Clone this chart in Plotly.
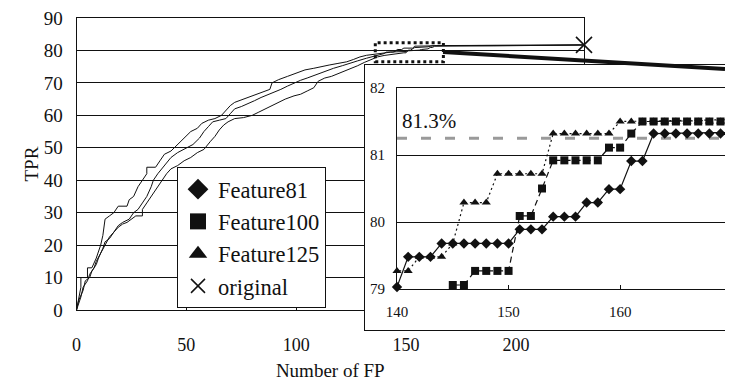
import plotly.graph_objects as go

# ---------------- data ----------------
series_names = ["Feature81", "Feature100", "Feature125"]

# main ROC curves (FP, TPR) below the zoomed region
f81_fp_head = [0, 2, 3, 5, 6, 8, 9, 11, 13, 15, 17, 19, 21, 24, 26, 28, 30, 32, 34, 35, 37, 40, 43, 46, 50,
               53, 56, 58, 60, 62, 65, 68, 70, 72, 75, 78, 81, 84, 87, 90, 93, 96, 99, 102, 105, 108, 111,
               114, 117, 121, 124, 128, 132, 135, 137]
f81_tpr_head = [0, 4, 7, 9, 11, 13, 15, 17.5, 20, 22.5, 24, 26, 27, 28, 30, 31, 33, 35, 38, 40, 42, 44.5, 47,
                48.5, 50, 51, 53, 55, 56.5, 58, 58.5, 59, 60.5, 62, 62.7, 63.5, 64.5, 65.5, 66.3, 67, 68, 69,
                70, 70.8, 71.5, 72.3, 73, 73.8, 74.5, 75.3, 76, 76.8, 77.6, 78.2, 78.6]

f100_fp_head = [0, 1, 3, 4, 6, 7, 9, 10, 12, 13, 15, 17, 19, 21, 23, 25, 27, 30, 30, 32, 33, 35, 37, 39, 41,
                43, 46, 49, 52, 55, 58, 61, 63, 65, 67, 69, 72, 76, 80, 83, 86, 89, 92, 95, 99, 102, 105, 108,
                110, 113, 116, 119, 122, 125, 128, 131, 134, 137]
f100_tpr_head = [0, 3, 6, 9, 10, 12, 14, 16, 19, 21, 22, 24, 25.5, 26.5, 27, 28, 29, 29, 31, 33, 34, 36, 38,
                 40, 42, 43.5, 44.5, 46, 47, 48.5, 49.5, 52, 53.5, 55.5, 57, 58, 59, 59.3, 60, 61, 62, 63, 64,
                 65, 66, 66.5, 67.5, 68.5, 70.5, 71.5, 72, 72.8, 73.5, 74.5, 75.3, 76.3, 77.2, 78]

f125_fp_head = [0, 1, 2, 2, 5, 5, 7, 9, 11, 12, 13, 15, 17, 19, 23, 24, 26, 28, 30, 32, 32, 36, 38, 40, 43,
                46, 49, 52, 55, 57, 60, 63, 66, 68, 70, 72, 76, 80, 84, 88, 89, 92, 96, 100, 104, 108, 111,
                115, 119, 123, 126, 129, 132, 135, 137]
f125_tpr_head = [0, 3, 7, 10, 10, 13, 13, 16, 20, 23, 28, 29, 30, 32, 32, 34, 35, 38, 40, 42, 44, 44, 46, 48,
                 49, 51, 53, 55, 56, 57.5, 58.5, 59, 60, 61.5, 63, 64, 65, 66, 67, 68, 70, 71, 72, 73, 74,
                 74.5, 75, 75.5, 76, 76.5, 77.2, 78, 78.5, 78.8, 79.1]

# zoomed region (shown in the inset)
zoom_fp = list(range(140, 170))
f81_tpr_zoom = [79.03, 79.48, 79.48, 79.48, 79.68, 79.68, 79.68, 79.68, 79.68, 79.68, 79.68,
                79.89, 79.89, 79.89, 80.08, 80.08, 80.08, 80.29, 80.29, 80.49, 80.49,
                80.91, 80.91, 81.32, 81.32, 81.32, 81.32, 81.32, 81.32, 81.32]
f100_tpr_zoom = [78.45, 78.55, 78.65, 78.75, 78.85, 79.06, 79.06, 79.27, 79.27, 79.27, 79.27,
                 80.09, 80.09, 80.5, 80.92, 80.92, 80.92, 80.92, 80.92, 81.11, 81.11,
                 81.32, 81.5, 81.5, 81.5, 81.5, 81.5, 81.5, 81.5, 81.5]
f125_tpr_zoom = [79.27, 79.27, 79.48, 79.48, 79.48, 79.68, 80.29, 80.29, 80.29, 80.72, 80.72,
                 80.72, 80.72, 80.72, 81.32, 81.32, 81.32, 81.32, 81.32, 81.32, 81.5,
                 81.5, 81.5, 81.5, 81.5, 81.5, 81.5, 81.5, 81.5, 81.5]

# tails to the end of the curves
f81_fp_tail = [190, 231]
f81_tpr_tail = [81.4, 81.7]
f100_fp_tail = [231]
f100_tpr_tail = [81.7]
f125_fp_tail = [215, 231]
f125_tpr_tail = [81.6, 81.7]

original_fp = [231]
original_tpr = [81.7]

ref_tpr = 81.25
ref_label = "81.3%"

main_x_ticks = [0, 50, 100, 150, 200]
main_y_ticks = [0, 10, 20, 30, 40, 50, 60, 70, 80, 90]
inset_x_ticks = [140, 150, 160]
inset_y_ticks = [79, 80, 81, 82]

# ---------------- figure ----------------
# the page body has an 8px margin, so the figure is 8px smaller and
# positions below are given in window pixels
OFF = 8
W, H = 733 - OFF, 392 - OFF
FONT = "Liberation Serif"
BLACK = "#111111"


def dx(p):
    return (p - OFF) / W


def dy(p):
    return 1 - (p - OFF) / H


series = [
    (series_names[0], f81_fp_head + zoom_fp + f81_fp_tail, f81_tpr_head + f81_tpr_zoom + f81_tpr_tail,
     "diamond", "solid"),
    (series_names[1], f100_fp_head + zoom_fp + f100_fp_tail, f100_tpr_head + f100_tpr_zoom + f100_tpr_tail,
     "square", "6px,4px"),
    (series_names[2], f125_fp_head + zoom_fp + f125_fp_tail, f125_tpr_head + f125_tpr_zoom + f125_tpr_tail,
     "triangle-up", "2px,3px"),
]

fig = go.Figure()

# main curves
for name, xs, ys, sym, dash in series:
    fig.add_trace(go.Scatter(x=xs, y=ys, mode="lines", line=dict(color=BLACK, width=1),
                             showlegend=False, hoverinfo="skip", xaxis="x", yaxis="y"))

fig.add_trace(go.Scatter(x=original_fp, y=original_tpr, mode="markers", name="original",
                         cliponaxis=False,
                         marker=dict(symbol="x-thin", size=16, line=dict(width=1.6, color=BLACK),
                                     color=BLACK),
                         showlegend=False, xaxis="x", yaxis="y"))

# frame subplot (white box behind the inset)
fig.add_trace(go.Scatter(x=[], y=[], xaxis="x2", yaxis="y2", showlegend=False, hoverinfo="skip"))

# inset curves
for name, xs, ys, sym, dash in series:
    fig.add_trace(go.Scatter(x=xs, y=ys, mode="lines+markers", cliponaxis=False,
                             line=dict(color=BLACK, width=1.2, dash=dash),
                             marker=dict(symbol=sym, size=8, color=BLACK),
                             showlegend=False, hoverinfo="skip", xaxis="x3", yaxis="y3"))

# legend entries (markers only)
for name, xs, ys, sym, dash in series:
    fig.add_trace(go.Scatter(x=[None], y=[None], mode="markers", name=name,
                             marker=dict(symbol=sym, size=16, color=BLACK),
                             xaxis="x3", yaxis="y3"))
fig.add_trace(go.Scatter(x=[None], y=[None], mode="markers", name="original",
                         marker=dict(symbol="x-thin", size=14, line=dict(width=1.5, color=BLACK)),
                         xaxis="x3", yaxis="y3"))

fig.update_layout(
    template="none",
    width=W, height=H,
    margin=dict(l=0, r=0, t=0, b=0, autoexpand=False),
    paper_bgcolor="white", plot_bgcolor="white",
    font=dict(family=FONT, color=BLACK),
    xaxis=dict(domain=[dx(76.5), dx(584)], range=[0, 231], tickvals=main_x_ticks, automargin=False,
               showgrid=False, zeroline=False, showline=True, mirror=True, linecolor=BLACK,
               linewidth=1, ticks="inside", ticklen=4, tickcolor=BLACK, ticklabeloverflow="allow",
               tickfont=dict(family=FONT, size=18, color=BLACK), ticklabelstandoff=18,
               title=dict(text="Number of FP", font=dict(family=FONT, size=19, color=BLACK))),
    yaxis=dict(domain=[dy(310), dy(18)], range=[0, 90], tickvals=main_y_ticks, automargin=False,
               showgrid=True, gridcolor=BLACK, gridwidth=1, zeroline=False, showline=True,
               mirror=True, linecolor=BLACK, linewidth=1, ticks="", ticklabeloverflow="allow",
               tickfont=dict(family=FONT, size=19, color=BLACK), ticklabelstandoff=9),
    xaxis2=dict(domain=[dx(365), dx(726)], range=[0, 1], anchor="y2", showgrid=False, automargin=False,
                zeroline=False, showticklabels=False, ticks="", showline=True, mirror=True,
                linecolor=BLACK, linewidth=1),
    yaxis2=dict(domain=[dy(330), dy(65)], range=[0, 1], anchor="x2", showgrid=False, automargin=False,
                zeroline=False, showticklabels=False, ticks="", showline=True, mirror=False,
                linecolor=BLACK, linewidth=1),
    xaxis3=dict(domain=[dx(397), dx(725)], range=[140, 169.4], anchor="y3", tickvals=inset_x_ticks,
                automargin=False,
                showgrid=False, zeroline=False, showline=True, mirror=True, linecolor=BLACK,
                linewidth=1, ticks="inside", ticklen=4, tickcolor=BLACK,
                tickfont=dict(family=FONT, size=15, color=BLACK), ticklabelstandoff=9),
    yaxis3=dict(domain=[dy(289), dy(88)], range=[79, 82], anchor="x3", tickvals=inset_y_ticks,
                automargin=False,
                showgrid=True, gridcolor=BLACK, gridwidth=1, zeroline=False, showline=True,
                mirror=False, linecolor=BLACK, linewidth=1, ticks="",
                tickfont=dict(family=FONT, size=15, color=BLACK), ticklabelstandoff=8),
    legend=dict(x=dx(177), y=dy(167), xanchor="left", yanchor="top",
                bgcolor="white", bordercolor=BLACK, borderwidth=1,
                entrywidth=120, entrywidthmode="pixels",
                font=dict(family=FONT, size=22.5, color=BLACK), tracegroupgap=0),
    showlegend=True,
)

# y-axis title
fig.add_annotation(x=dx(18), y=dy(164), xref="paper", yref="paper", text="TPR", showarrow=False,
                   textangle=-90, font=dict(family=FONT, size=19, color=BLACK))

# white box of the inset frame
fig.add_shape(type="rect", xref="x2", yref="y2", x0=0, x1=1, y0=0, y1=1,
              fillcolor="white", line=dict(width=0), layer="below")

# reference line 81.3%
fig.add_shape(type="line", xref="x3", yref="y3", x0=140, x1=169.4, y0=ref_tpr, y1=ref_tpr,
              line=dict(color="#9a9a9a", width=3, dash="10px,14px"), layer="below")
fig.add_annotation(x=140.3, y=ref_tpr + 0.05, xref="x3", yref="y3", text=ref_label, showarrow=False,
                   xanchor="left", yanchor="bottom", font=dict(family=FONT, size=21, color=BLACK))

# zoom rectangle in the main plot
fig.add_shape(type="rect", xref="x", yref="y", x0=136, x1=167, y0=76.5, y1=82.4,
              line=dict(color=BLACK, width=3, dash="dot"), layer="above")

# connector from the zoom rectangle to the inset
fig.add_shape(type="line", xref="paper", yref="paper", x0=dx(443), y0=dy(52), x1=dx(725), y1=dy(69),
              line=dict(color=BLACK, width=4), layer="above")

fig.write_html("out.html")
